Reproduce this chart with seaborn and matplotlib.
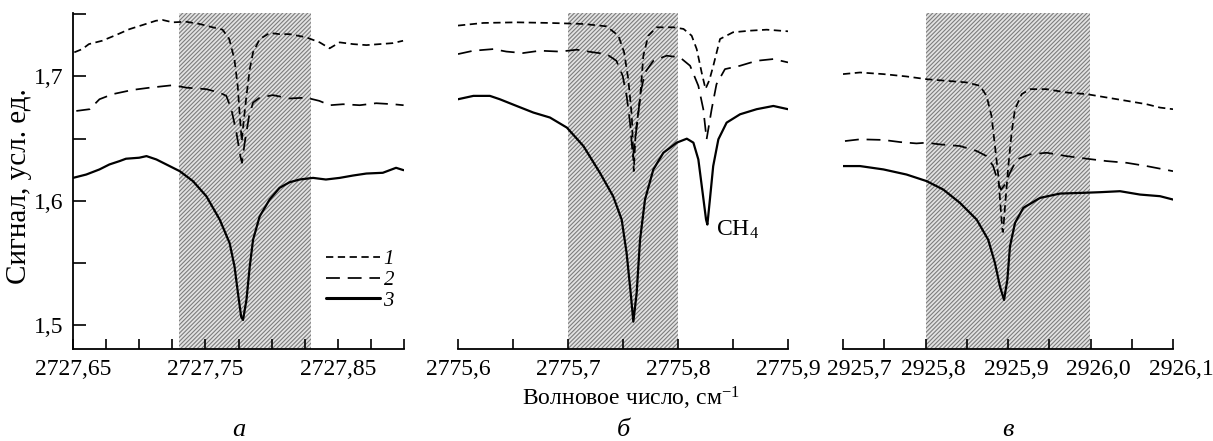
import matplotlib
matplotlib.use("Agg")
import matplotlib.pyplot as plt
import matplotlib.transforms as mtrans
import seaborn as sns
import pandas as pd
from matplotlib.lines import Line2D

sns.set_theme(style="ticks")
plt.rcParams["font.family"] = ["Liberation Serif", "DejaVu Serif"]
plt.rcParams["mathtext.fontset"] = "custom"
plt.rcParams["mathtext.rm"] = "Liberation Serif"
plt.rcParams["mathtext.it"] = "Liberation Serif:italic"
plt.rcParams["hatch.linewidth"] = 0.8
for k in ["text.color", "axes.labelcolor", "xtick.color", "ytick.color", "axes.edgecolor"]:
    plt.rcParams[k] = "black"

# ---------------- data ----------------
# panel a
a_x1 = [2727.651, 2727.657, 2727.662, 2727.672, 2727.6825, 2727.6926, 2727.7027, 2727.7127, 2727.7177,
        2727.7253, 2727.7353, 2727.7455, 2727.7555, 2727.763, 2727.768, 2727.7719, 2727.7744, 2727.776,
        2727.7775, 2727.779, 2727.781, 2727.7835, 2727.786, 2727.791, 2727.7986, 2727.806, 2727.8136,
        2727.826, 2727.8363, 2727.8438, 2727.8514, 2727.8615, 2727.8716, 2727.8817, 2727.8917, 2727.8993]
a_y1 = [1.7194, 1.722, 1.726, 1.7287, 1.7333, 1.738, 1.7414, 1.7448, 1.7454,
        1.7435, 1.744, 1.7422, 1.7395, 1.7376, 1.730, 1.714, 1.6924, 1.668,
        1.648, 1.665, 1.6844, 1.7059, 1.7194, 1.730, 1.735, 1.734, 1.734,
        1.7315, 1.7274, 1.7226, 1.7274, 1.726, 1.7252, 1.726, 1.7268, 1.7287]
a_x2 = [2727.6525, 2727.6626, 2727.670, 2727.680, 2727.695, 2727.708, 2727.7255, 2727.7356, 2727.7507,
        2727.7608, 2727.7658, 2727.7696, 2727.7734, 2727.7764, 2727.7776, 2727.7797, 2727.783, 2727.786,
        2727.791, 2727.801, 2727.8136, 2727.826, 2727.836, 2727.844, 2727.854, 2727.8665, 2727.879,
        2727.8917, 2727.8997]
a_y2 = [1.6723, 1.6737, 1.6817, 1.6858, 1.6892, 1.691, 1.693, 1.691, 1.6898,
        1.687, 1.6844, 1.6737, 1.655, 1.636, 1.6306, 1.6468, 1.6683, 1.679,
        1.683, 1.685, 1.6823, 1.683, 1.6804, 1.6769, 1.6777, 1.6769, 1.6785,
        1.6777, 1.6769]
a_x3 = [2727.650, 2727.660, 2727.670, 2727.6775, 2727.6852, 2727.690, 2727.700, 2727.7055, 2727.713,
        2727.7205, 2727.7306, 2727.7406, 2727.7507, 2727.7608, 2727.7683, 2727.772, 2727.7746, 2727.777,
        2727.7784, 2727.781, 2727.7835, 2727.786, 2727.791, 2727.7985, 2727.806, 2727.8136, 2727.8212,
        2727.8313, 2727.841, 2727.8514, 2727.8615, 2727.8716, 2727.884, 2727.894, 2727.8997]
a_y3 = [1.6185, 1.6212, 1.6253, 1.6293, 1.632, 1.6339, 1.6347, 1.636, 1.6333,
        1.6293, 1.6239, 1.6159, 1.6038, 1.585, 1.5661, 1.5473, 1.5258, 1.507,
        1.5043, 1.5204, 1.5473, 1.5688, 1.5876, 1.6011, 1.6105, 1.615, 1.6172,
        1.6185, 1.6172, 1.6185, 1.6204, 1.622, 1.6226, 1.6266, 1.6247]

# panel b
b_x1 = [2775.600, 2775.623, 2775.6533, 2775.6836, 2775.714, 2775.735, 2775.7458, 2775.751, 2775.7548,
        2775.758, 2775.7598, 2775.7615, 2775.7655, 2775.7685, 2775.773, 2775.7806, 2775.7958, 2775.805,
        2775.8124, 2775.817, 2775.8215, 2775.825, 2775.8285, 2775.8321, 2775.8382, 2775.850, 2775.8655,
        2775.8806, 2775.900]
b_y1 = [1.7409, 1.743, 1.7435, 1.743, 1.7422, 1.7403, 1.7328, 1.7194, 1.6978,
        1.6683, 1.624, 1.655, 1.6817, 1.7167, 1.7328, 1.7395, 1.7395, 1.7382,
        1.7328, 1.722, 1.7032, 1.690, 1.697, 1.7086, 1.7301, 1.7355, 1.7368,
        1.7376, 1.7363]
b_x2 = [2775.600, 2775.614, 2775.632, 2775.644, 2775.659, 2775.6745, 2775.6927, 2775.708, 2775.723,
        2775.735, 2775.744, 2775.7497, 2775.7533, 2775.7564, 2775.759, 2775.763, 2775.766, 2775.770,
        2775.7776, 2775.7897, 2775.8018, 2775.811, 2775.8185, 2775.823, 2775.826, 2775.8306, 2775.835,
        2775.8427, 2775.8564, 2775.8715, 2775.8867, 2775.900]
b_y2 = [1.718, 1.7207, 1.722, 1.720, 1.7188, 1.7207, 1.720, 1.7215, 1.7194,
        1.718, 1.7126, 1.7005, 1.6844, 1.6629, 1.635, 1.6629, 1.6871, 1.7032,
        1.7126, 1.7167, 1.7153, 1.7086, 1.6925, 1.6737, 1.6495, 1.6737, 1.6938,
        1.7059, 1.7086, 1.7126, 1.714, 1.7113]
b_x3 = [2775.600, 2775.614, 2775.629, 2775.638, 2775.6533, 2775.6685, 2775.6836, 2775.699, 2775.714,
        2775.729, 2775.741, 2775.7488, 2775.7533, 2775.757, 2775.7594, 2775.7624, 2775.7655, 2775.770,
        2775.7776, 2775.7867, 2775.7988, 2775.808, 2775.814, 2775.8185, 2775.8224, 2775.8255, 2775.8267,
        2775.829, 2775.832, 2775.8367, 2775.8442, 2775.8564, 2775.8715, 2775.8867, 2775.900]
b_y3 = [1.6817, 1.6844, 1.6844, 1.6817, 1.6763, 1.671, 1.667, 1.6589, 1.6441,
        1.6226, 1.6038, 1.585, 1.558, 1.5258, 1.503, 1.5258, 1.5688, 1.6011,
        1.6253, 1.6387, 1.6468, 1.650, 1.6468, 1.6333, 1.6065, 1.585, 1.581,
        1.6011, 1.628, 1.6495, 1.6629, 1.6696, 1.6737, 1.6763, 1.6737]

# panel c
c_x1 = [2925.700, 2925.7206, 2925.749, 2925.777, 2925.8014, 2925.8257, 2925.850, 2925.866, 2925.874,
        2925.880, 2925.8842, 2925.8883, 2925.8903, 2925.8931, 2925.894, 2925.8964, 2925.9004, 2925.9044,
        2925.9085, 2925.9166, 2925.9267, 2925.9469, 2925.971, 2925.9954, 2926.0196, 2926.044, 2926.068,
        2926.0842, 2926.100]
c_y1 = [1.7019, 1.7032, 1.7019, 1.700, 1.6978, 1.6965, 1.6952, 1.6925, 1.6844,
        1.6683, 1.6441, 1.6199, 1.6011, 1.5769, 1.575, 1.5957, 1.628, 1.6548,
        1.6737, 1.6858, 1.6898, 1.6898, 1.6871, 1.6858, 1.6831, 1.6804, 1.6777,
        1.675, 1.6737]
c_x2 = [2925.7024, 2925.7206, 2925.749, 2925.769, 2925.789, 2925.8014, 2925.8176, 2925.842, 2925.862,
        2925.874, 2925.882, 2925.8883, 2925.8915, 2925.8964, 2925.9024, 2925.9105, 2925.9267, 2925.9469,
        2925.971, 2925.9954, 2926.0196, 2926.044, 2926.068, 2926.100]
c_y2 = [1.6481, 1.6495, 1.649, 1.6473, 1.6462, 1.6468, 1.6454, 1.6441, 1.6401,
        1.636, 1.628, 1.6145, 1.609, 1.6132, 1.6226, 1.6333, 1.6374, 1.6387,
        1.636, 1.6339, 1.632, 1.6306, 1.628, 1.6239]
c_x3 = [2925.700, 2925.7206, 2925.749, 2925.777, 2925.8014, 2925.8216, 2925.8418, 2925.862, 2925.876,
        2925.8842, 2925.8903, 2925.8952, 2925.8992, 2925.9024, 2925.9085, 2925.9186, 2925.9388, 2925.963,
        2925.9913, 2926.0115, 2926.0358, 2926.060, 2926.0842, 2926.100]
c_y3 = [1.628, 1.628, 1.6253, 1.6212, 1.6159, 1.6091, 1.5984, 1.585, 1.5688,
        1.550, 1.5312, 1.5204, 1.5366, 1.5634, 1.5823, 1.5944, 1.6024, 1.6059,
        1.6065, 1.607, 1.6078, 1.6051, 1.6038, 1.6011]

# axes ranges, shaded bands, ticks
x_limits = [(2727.65, 2727.90), (2775.6, 2775.9), (2925.7, 2926.1)]
bands = [(2727.73, 2727.83), (2775.7, 2775.8), (2925.8, 2926.0)]
major_x = [[2727.65, 2727.75, 2727.85], [2775.6, 2775.7, 2775.8, 2775.9],
           [2925.7, 2925.8, 2925.9, 2926.0, 2926.1]]
major_x_labels = [["2727,65", "2727,75", "2727,85"], ["2775,6", "2775,7", "2775,8", "2775,9"],
                  ["2925,7", "2925,8", "2925,9", "2926,0", "2926,1"]]
minor_x = [[2727.675, 2727.70, 2727.725, 2727.775, 2727.80, 2727.825, 2727.875, 2727.90],
           [2775.65, 2775.75, 2775.85],
           [2925.75, 2925.85, 2925.95, 2926.05]]
y_limits = (1.481, 1.751)
major_y = [1.5, 1.6, 1.7]
major_y_labels = ["1,5", "1,6", "1,7"]
minor_y = [1.55, 1.65, 1.75]
panel_letters = ["а", "б", "в"]
series_labels = ["1", "2", "3"]

panels = [
    [(a_x1, a_y1), (a_x2, a_y2), (a_x3, a_y3)],
    [(b_x1, b_y1), (b_x2, b_y2), (b_x3, b_y3)],
    [(c_x1, c_y1), (c_x2, c_y2), (c_x3, c_y3)],
]

styles = [
    dict(linestyle=(0, (4.2, 2.6)), linewidth=1.25),
    dict(linestyle=(0, (8.0, 4.5)), linewidth=1.25),
    dict(linestyle="-", linewidth=1.6),
]

# ---------------- figure ----------------
W, H = 1213, 441
fig = plt.figure(figsize=(W / 100, H / 100), dpi=100)
lefts = [73, 458, 843]
rights = [404, 788, 1173]
top_px, bot_px = 13, 349

for i in range(3):
    ax = fig.add_axes([lefts[i] / W, 1 - bot_px / H, (rights[i] - lefts[i]) / W, (bot_px - top_px) / H])
    ax.set_facecolor("none")
    ax.axvspan(bands[i][0], bands[i][1], facecolor="#e3e3e3", edgecolor="#7c7c7c",
               hatch="////////", linewidth=0, zorder=0)
    for j, (xs, ys) in enumerate(panels[i]):
        df = pd.DataFrame({"x": xs, "y": ys})
        sns.lineplot(data=df, x="x", y="y", ax=ax, color="black", sort=False,
                     estimator=None, zorder=3, **styles[j])
    ax.set_xlim(*x_limits[i])
    ax.set_ylim(*y_limits)
    ax.set_xlabel("")
    ax.set_ylabel("")
    ax.set_xticks(major_x[i])
    ax.set_xticklabels(major_x_labels[i])
    ax.set_xticks(minor_x[i], minor=True)
    ax.tick_params(axis="x", which="both", direction="in", length=7, width=1.2,
                   labelsize=17, pad=7)
    for s in ["top", "right"]:
        ax.spines[s].set_visible(False)
    ax.spines["bottom"].set_linewidth(1.3)
    if i == 2:
        # labels of the third panel sit slightly right of their ticks in the original
        for n, lab in enumerate(ax.get_xticklabels()):
            dx = 16 if n == 0 else 8
            lab.set_transform(lab.get_transform() + mtrans.ScaledTranslation(dx / 100, 0, fig.dpi_scale_trans))
    if i == 0:
        ax.set_yticks(major_y)
        ax.set_yticklabels(major_y_labels)
        ax.set_yticks(minor_y, minor=True)
        ax.tick_params(axis="y", which="both", direction="in", length=9, width=1.2,
                       labelsize=17, pad=7)
        ax.spines["left"].set_linewidth(1.3)
        handles = [Line2D([], [], color="black", **styles[k]) for k in range(3)]
        handles[2].set_linewidth(2.2)
        ax.legend(handles, series_labels, loc="upper left", bbox_to_anchor=(0.765, 0.295),
                  frameon=False, handlelength=2.6, handletextpad=0.15, labelspacing=0.05,
                  borderpad=0, borderaxespad=0,
                  prop={"family": "Liberation Serif", "style": "italic", "size": 15})
    else:
        ax.spines["left"].set_visible(False)
        ax.set_yticks([])
    if i == 1:
        ax.text(2775.835, 1.577, "CH$_4$", fontsize=17, ha="left", va="center")
    fig.text((lefts[i] + rights[i]) / 2 / W, 0.025, panel_letters[i],
             fontsize=19, style="italic", ha="center", va="center")

fig.text(19 / W, 1 - 186 / H, "Сигнал, усл. ед.", rotation=90, fontsize=21,
         ha="center", va="center")
fig.text(631 / W, 1 - 398 / H, "Волновое число, см$^{-1}$", fontsize=17,
         ha="center", va="center")

fig.savefig("out.png", dpi=100)
